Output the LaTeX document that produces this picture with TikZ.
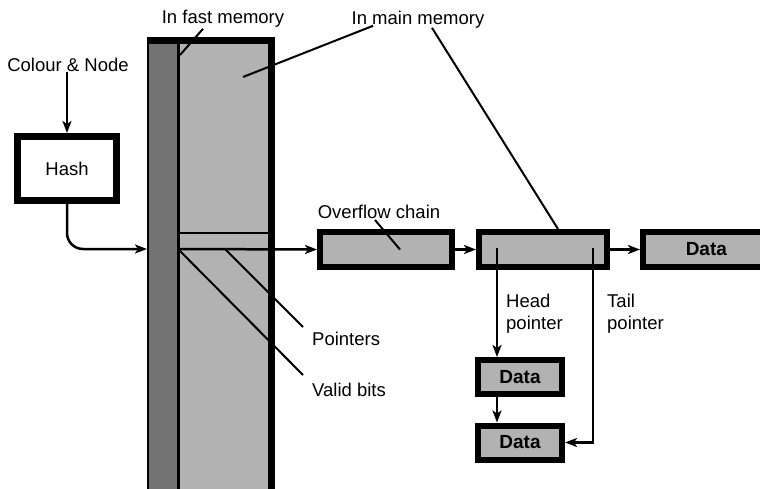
\documentclass[tikz,border=0pt]{standalone}
\usepackage{fontspec}
\setmainfont{Liberation Sans}
\usetikzlibrary{arrows.meta, positioning, calc}

\begin{document}
\begin{tikzpicture}[
    x=1pt, y=-1pt,
    etiqueta/.style = {font=\fontsize{18.5}{22}\selectfont, inner sep=0pt},
    hashbox/.style  = {rectangle, draw=black, line width=7pt, fill=white,
                       minimum width=99pt, minimum height=64pt, font=\fontsize{18.5}{22}\selectfont},
    cadena/.style   = {rectangle, draw=black, line width=6pt, fill=black!30,
                       minimum height=35pt, font=\fontsize{19}{22}\selectfont\bfseries},
    dato/.style     = {cadena, minimum width=84pt, minimum height=34pt},
    guia/.style     = {line width=2pt},
    arrow/.style    = {-{Stealth[length=12pt, width=9pt, inset=3pt]}, line width=2.5pt},
]
\useasboundingbox (0,0) rectangle (760,488);

% Tabla hash: columna de memoria
\fill[black!30] (147,37) rectangle (275,500);
\fill[black!55] (147,37) rectangle (178,500);
\draw[line width=3pt] (178,40) -- (178,500);
\draw[line width=2pt] (148,37) -- (148,500);
\draw[line width=7pt] (147,40.5) -- (271.5,40.5) -- (271.5,500);
\draw[line width=2.5pt] (178,233) -- (271,233);

\coordinate (colin)  at (147,249);
\coordinate (vb)     at (178,249);
\coordinate (ptr)    at (225,249);
\coordinate (fastpt) at (180,55);
\coordinate (mainpt) at (243,77);

% Entrada y hash
\node[etiqueta] (cn) at (68,65) {Colour \& Node};
\node[hashbox] (hash) at (67,168.5) {Hash};

% Cadena de desbordamiento
\node[cadena, minimum width=132pt] (ov) at (386,249.5) {};
\node[cadena, minimum width=128pt] (ch2) at (543,249.5) {};
\node[cadena, anchor=west, text width=120pt, align=center] (d3) at (640,249.5) {Data};

% Lista de datos
\node[dato] (d1) at (520,377) {Data};
\node[dato] (d2) at (520,442.5) {Data};

% Etiquetas
\node[etiqueta] (fastlbl) at (223,19) {In fast memory};
\node[etiqueta] (mainlbl) at (418,20) {In main memory};
\node[etiqueta] (ovlbl) at (379,212) {Overflow chain};
\node[etiqueta, anchor=west] (ptrlbl) at (312,339) {Pointers};
\node[etiqueta, anchor=west] (vblbl) at (312,390) {Valid bits};
\node[etiqueta, anchor=north west, align=left] (headlbl) at (506,294) {Head\\pointer};
\node[etiqueta, anchor=north west, align=left] (taillbl) at (607,294) {Tail\\pointer};

% Lineas guia
\draw[guia] ($(fastlbl.south)+(-20,1)$) -- (fastpt);
\draw[guia] ($(mainlbl.south)+(-45,-3)$) -- (mainpt);
\draw[guia] ($(mainlbl.south)+(14,-1)$) -- ($(ch2.north)+(15,0)$);
\draw[guia] ($(ovlbl.south)+(-4,1)$) -- ($(ov.center)+(14,0)$);
\draw[guia] (ptr) -- ($(ptrlbl.west)+(-9,-12)$);
\draw[guia] (vb) -- ($(vblbl.west)+(-9,-15)$);

% Flechas
\draw[arrow] (cn.south -| hash.north) -- (hash.north);
\draw[arrow, rounded corners=16pt] (hash.south) |- (colin);
\draw[arrow] (vb) -- (ov.west);
\draw[arrow] (ov.east) -- (ch2.west);
\draw[arrow] (ch2.east) -- (d3.west);

% Punteros de cabeza y cola
\coordinate (hp) at (497,248);
\coordinate (tp) at (593,248);
\draw[arrow] (hp) -- (hp |- d1.north);
\draw[arrow] (d1.south -| hp) -- (d2.north -| hp);
\draw[arrow] (tp) |- (d2.east);

\end{tikzpicture}
\end{document}
